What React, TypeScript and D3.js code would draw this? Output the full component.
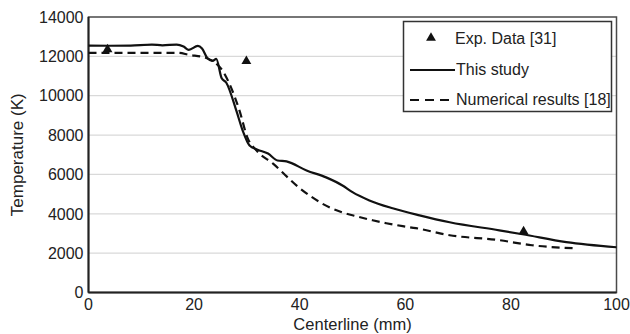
import React from "react";
import * as d3 from "d3";

const thisStudyX = [0, 4, 8, 12, 14, 16.7, 18, 19, 20.7, 21.5, 22.5, 23.5, 24.2, 25.2, 26.1, 28, 29.2, 30.5, 32, 34, 35.8, 37.5, 41.3, 45, 48.1, 50, 53.2, 57.6, 62.7, 68.4, 77.8, 82.2, 90.5, 100];
const thisStudyY = [12550, 12540, 12550, 12600, 12560, 12600, 12500, 12330, 12530, 12400, 11920, 11770, 11870, 10900, 10660, 9240, 8230, 7470, 7260, 7060, 6710, 6660, 6200, 5850, 5440, 5100, 4680, 4280, 3920, 3570, 3160, 2960, 2560, 2300];

const numericalX = [0, 10, 17, 19, 22.3, 24, 25.4, 26.7, 28.6, 30.1, 31.8, 34.9, 40, 42.4, 45.6, 48.1, 50.8, 53.8, 56.4, 59.5, 62, 68.4, 77.8, 84, 91.7];
const numericalY = [12180, 12180, 12180, 12080, 11920, 11670, 11270, 10600, 9240, 7870, 7220, 6560, 5300, 4830, 4330, 4070, 3870, 3670, 3520, 3370, 3270, 2910, 2660, 2400, 2250];

const expX = [3.6, 29.9, 82.4];
const expY = [12350, 11750, 3100];

const xTicks = [0, 20, 40, 60, 80, 100];
const yTicks = [0, 2000, 4000, 6000, 8000, 10000, 12000, 14000];

const legendLabels = ["Exp. Data [31]", "This study", "Numerical results [18]"];
const xTitle = "Centerline (mm)";
const yTitle = "Temperature (K)";

const W = 630;
const H = 334;
const left = 88.5;
const right = 616.5;
const top = 17;
const bottom = 292.5;
const FONT = "'Liberation Sans', Arial, sans-serif";

export default function App() {
  const x = d3.scaleLinear().domain([0, 100]).range([left, right]);
  const y = d3.scaleLinear().domain([0, 14000]).range([bottom, top]);

  const line = d3
    .line<[number, number]>()
    .x((d) => x(d[0]))
    .y((d) => y(d[1]))
    .curve(d3.curveMonotoneX);

  const solid = line(thisStudyX.map((v, i) => [v, thisStudyY[i]]) as [number, number][]) || "";
  const dashed = line(numericalX.map((v, i) => [v, numericalY[i]]) as [number, number][]) || "";
  const tri = d3.symbol().type(d3.symbolTriangle).size(42)() || "";

  const lg = { x: 403.5, y: 21.5, w: 208, h: 90 };

  return (
    <svg
      width={W}
      height={H}
      style={{ position: "fixed", left: 0, top: 0, background: "#fff" }}
      fontFamily={FONT}
    >
      <rect x={0} y={0} width={W} height={H} fill="#fff" />
      {yTicks
        .filter((t) => t > 0 && t < 14000)
        .map((t) => (
          <line key={"g" + t} x1={left} x2={right} y1={y(t)} y2={y(t)} stroke="#d9d9d9" strokeWidth={1.2} />
        ))}
      <rect x={left} y={top} width={right - left} height={bottom - top} fill="none" stroke="#4a4a4a" strokeWidth={1.5} />
      <line x1={left} x2={right} y1={bottom} y2={bottom} stroke="#222" strokeWidth={2} />
      <line x1={left} x2={left} y1={top} y2={bottom} stroke="#222" strokeWidth={2} />

      {yTicks.map((t) => (
        <text key={"y" + t} x={left - 5} y={y(t)} dy="0.36em" textAnchor="end" fontSize={16} fill="#222">
          {t}
        </text>
      ))}
      {xTicks.map((t) => (
        <text key={"x" + t} x={x(t)} y={bottom + 17} textAnchor="middle" fontSize={16} fill="#222">
          {t}
        </text>
      ))}
      <text x={(left + right) / 2} y={330} textAnchor="middle" fontSize={16.5} fill="#222">
        {xTitle}
      </text>
      <text
        transform={`translate(23, ${(top + bottom) / 2}) rotate(-90)`}
        textAnchor="middle"
        fontSize={17}
        fill="#222"
      >
        {yTitle}
      </text>

      <path d={dashed} fill="none" stroke="#111" strokeWidth={2.2} strokeDasharray="8,5" />
      <path d={solid} fill="none" stroke="#111" strokeWidth={2.2} />
      {expX.map((v, i) => (
        <path key={"e" + i} d={tri} transform={`translate(${x(v)},${y(expY[i])})`} fill="#111" />
      ))}

      <rect x={lg.x} y={lg.y} width={lg.w} height={lg.h} fill="#fff" stroke="#333" strokeWidth={1.5} />
      <path d={tri} transform={`translate(431,38)`} fill="#111" />
      <text x={455} y={38} dy="0.36em" fontSize={16} fill="#222">
        {legendLabels[0]}
      </text>
      <line x1={410} x2={455} y1={70} y2={70} stroke="#111" strokeWidth={2.2} />
      <text x={456} y={69} dy="0.36em" fontSize={16} fill="#222">
        {legendLabels[1]}
      </text>
      <line x1={410} x2={455} y1={100} y2={100} stroke="#111" strokeWidth={2.2} strokeDasharray="9,6" />
      <text x={456} y={99} dy="0.36em" fontSize={16} fill="#222">
        {legendLabels[2]}
      </text>
    </svg>
  );
}
